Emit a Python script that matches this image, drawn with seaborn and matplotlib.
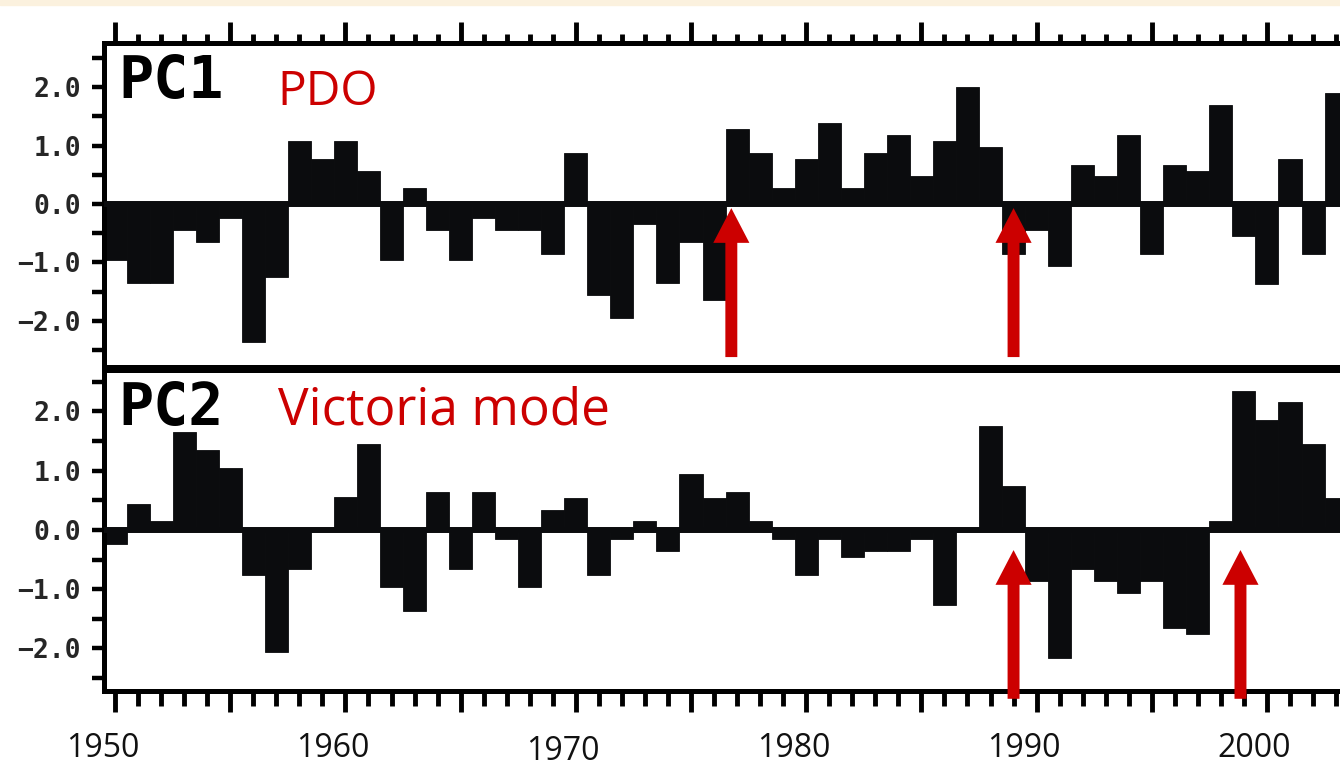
import matplotlib
matplotlib.use("Agg")
import matplotlib.pyplot as plt
import matplotlib.transforms as mtransforms
from matplotlib.patches import Rectangle
from matplotlib.ticker import MultipleLocator, FixedLocator
import seaborn as sns
import pandas as pd

# ---------------- data ----------------
years = list(range(1950, 2004))
pc1 = [-0.96, -1.35, -1.35, -0.44, -0.65, -0.24, -2.37, -1.25, 1.08, 0.77,
       1.08, 0.56, -0.96, 0.27, -0.44, -0.96, -0.24, -0.44, -0.44, -0.85,
       0.87, -1.56, -1.95, -0.34, -1.35, -0.65, -1.65, 1.28, 0.87, 0.27,
       0.77, 1.38, 0.27, 0.87, 1.18, 0.48, 1.08, 2.00, 0.97, -0.85,
       -0.44, -1.06, 0.67, 0.48, 1.18, -0.85, 0.67, 0.56, 1.69, -0.55,
       -1.37, 0.77, -0.85, 1.90]
pc2 = [-0.24, 0.44, 0.15, 1.65, 1.35, 1.05, -0.76, -2.06, -0.66, 0.02,
       0.55, 1.45, -0.96, -1.36, 0.64, -0.66, 0.64, -0.15, -0.96, 0.34,
       0.54, -0.76, -0.15, 0.15, -0.35, 0.95, 0.54, 0.64, 0.15, -0.15,
       -0.76, -0.15, -0.45, -0.35, -0.35, -0.15, -1.27, 0.02, 1.76, 0.74,
       -0.86, -2.16, -0.66, -0.86, -1.06, -0.86, -1.66, -1.76, 0.15, 2.35,
       1.86, 2.16, 1.45, 0.54]
panel_names = ["PC1", "PC2"]
panel_titles = ["PDO", "Victoria mode"]
arrow_years = [[1976.75, 1989.0], [1989.0, 1998.85]]
decade_labels = [1950, 1960, 1970, 1980, 1990, 2000]
ytick_vals = [-2.0, -1.0, 0.0, 1.0, 2.0]
ytick_labels = ["\u22122.0", "\u22121.0", "0.0", "1.0", "2.0"]

BAR = "#0b0c0e"
RED = "#cc0000"

sns.set_style("white")
plt.rcParams["font.family"] = ["DejaVu Sans"]

W, H = 1340, 765
fig = plt.figure(figsize=(W / 100, H / 100), dpi=100)
fig.patch.set_facecolor("white")
fig.patches.append(Rectangle((0, 1 - 5 / H), 1, 5 / H, transform=fig.transFigure,
                             color="#fbf1de", zorder=0))


def px_axes(left, top, right, bottom):
    return [left / W, 1 - bottom / H, (right - left) / W, (bottom - top) / H]


ax1 = fig.add_axes(px_axes(104, 43, 1340, 367))
ax2 = fig.add_axes(px_axes(104, 370, 1340, 690.5))
axes = [ax1, ax2]

df = pd.DataFrame({"year": years, "PC1": pc1, "PC2": pc2})

ylims = [(-2.79, 2.757), (-2.71, 2.70)]
arrow_tip = [-0.07, -0.34]
arrow_tail = [-2.62, -2.85]
title_sizes = [34.5, 37]

for i, ax in enumerate(axes):
    col = panel_names[i]
    sns.barplot(data=df, x="year", y=col, native_scale=True, width=1.0,
                color=BAR, saturation=1, errorbar=None, linewidth=0.6,
                edgecolor=BAR, ax=ax, zorder=2)
    ax.axhline(0, color=BAR, lw=4.3, zorder=3)
    ax.set_xlim(1949.52, 2003.17)
    ax.set_ylim(*ylims[i])
    ax.set_xlabel("")
    ax.set_ylabel("")
    ax.set_facecolor("white")
    for s in ["top", "bottom", "left"]:
        ax.spines[s].set_linewidth(3.6)
        ax.spines[s].set_color("black")
        ax.spines[s].set_visible(True)
    ax.spines["right"].set_visible(False)

    # y ticks
    ax.yaxis.set_major_locator(FixedLocator(ytick_vals))
    ax.set_yticklabels(ytick_labels, fontfamily="DejaVu Sans Mono",
                       fontweight="bold", fontsize=19)
    ax.yaxis.set_minor_locator(FixedLocator([-2.5, -1.5, -0.5, 0.5, 1.5, 2.5]))
    ax.tick_params(axis="y", which="both", left=True, right=False, direction="out",
                   length=8.6, width=3.2, color="black", pad=8)

    # x ticks
    ax.xaxis.set_major_locator(MultipleLocator(5))
    ax.xaxis.set_minor_locator(MultipleLocator(1))
    if i == 0:
        ax.tick_params(axis="x", which="both", top=True, bottom=False,
                       labeltop=False, labelbottom=False, direction="out",
                       width=3.5, color="black")
        ax.tick_params(axis="x", which="major", length=15)
        ax.tick_params(axis="x", which="minor", length=6.7)
    else:
        ax.tick_params(axis="x", which="both", top=False, bottom=True,
                       labeltop=False, labelbottom=False, direction="out",
                       width=3.5, color="black")
        ax.tick_params(axis="x", which="major", length=15)
        ax.tick_params(axis="x", which="minor", length=10.5)

    # panel labels
    ax.text(0.0113, 0.829, panel_names[i], transform=ax.transAxes,
            fontfamily="DejaVu Sans Mono", fontweight="bold", fontsize=42,
            color="black", va="baseline", ha="left", zorder=6)
    ax.text(0.1405, 0.81 if i == 0 else 0.8315, panel_titles[i],
            transform=ax.transAxes, fontfamily="Open Sans", fontsize=title_sizes[i],
            color=RED, va="baseline", ha="left", zorder=6)

    # arrows
    for yr in arrow_years[i]:
        ax.annotate("", xy=(yr, arrow_tip[i]), xytext=(yr, arrow_tail[i]),
                    textcoords="data",
                    arrowprops=dict(facecolor=RED, edgecolor="none", width=8.6,
                                    headwidth=26, headlength=25, shrink=0),
                    annotation_clip=False, zorder=7)

# decade labels under the lower panel
trans = mtransforms.blended_transform_factory(ax2.transData, ax2.transAxes)
for yr in decade_labels:
    yoff = -0.189 if yr == 1970 else -0.1825
    ax2.text(yr - 0.55, yoff, str(yr), transform=trans, fontfamily="Open Sans",
             fontsize=23, color="#111111", ha="center", va="center")

fig.savefig("out.png", dpi=100, facecolor=fig.get_facecolor())
